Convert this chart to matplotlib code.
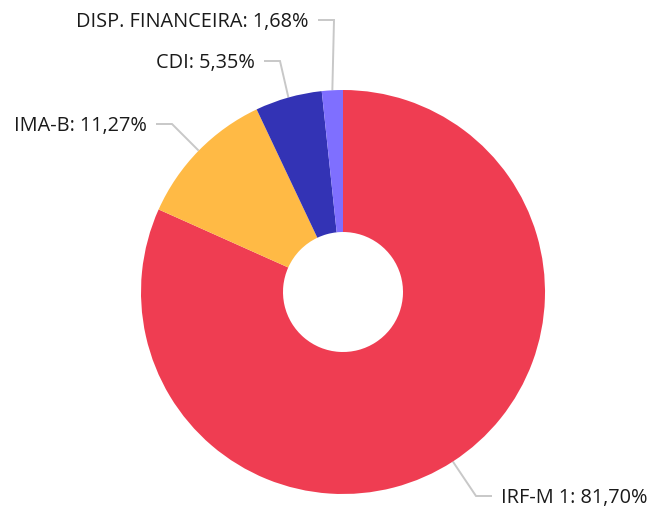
import matplotlib
matplotlib.use("Agg")
import matplotlib.pyplot as plt
import numpy as np

# ---- data ----
categories = ["IRF-M 1", "IMA-B", "CDI", "DISP. FINANCEIRA"]
values = [81.70, 11.27, 5.35, 1.68]
colors = ["#EF3D52", "#FFBA45", "#3333B5", "#7F6FFF"]

# ---- layout (pixel coordinates, y measured from top) ----
W, H = 651, 509
CX, CY = 343, 292
R_OUT, R_IN = 202, 60
# elbow points of leader lines and side of label
elbows = [(476, 496), (172, 124), (280, 61), (334, 20)]
sides = ["right", "left", "left", "left"]
HSEG = 16
GAP = 9

plt.rcParams['font.family'] = ['Open Sans', 'DejaVu Sans']

fig = plt.figure(figsize=(W / 100, H / 100), dpi=100)
ax = fig.add_axes([0, 0, 1, 1])

def Y(y):
    return H - y

wedges, _ = ax.pie(values, colors=colors, startangle=90, counterclock=False,
                   radius=R_OUT, center=(CX, Y(CY)),
                   wedgeprops=dict(width=R_OUT - R_IN, linewidth=0))

for w, cat, val, (ex, ey), side in zip(wedges, categories, values, elbows, sides):
    mid = np.deg2rad((w.theta1 + w.theta2) / 2)
    ax_x = CX + R_OUT * np.cos(mid)
    ax_y = Y(CY) + R_OUT * np.sin(mid)
    hx = ex + HSEG if side == "right" else ex - HSEG
    ax.plot([ax_x, ex, hx], [ax_y, Y(ey), Y(ey)], color="#C8C8C8", lw=1.4,
            solid_capstyle="butt", solid_joinstyle="miter", zorder=0)
    label = f"{cat}: " + f"{val:.2f}".replace(".", ",") + "%"
    tx = hx + GAP if side == "right" else hx - GAP
    ax.text(tx, Y(ey) - 1.5, label, ha="left" if side == "right" else "right",
            va="center", fontsize=14.3, color="#1a1a1a")

ax.set_xlim(0, W)
ax.set_ylim(0, H)
ax.set_aspect("equal", adjustable="box")
ax.set_axis_off()
fig.savefig("out.png", dpi=100)
